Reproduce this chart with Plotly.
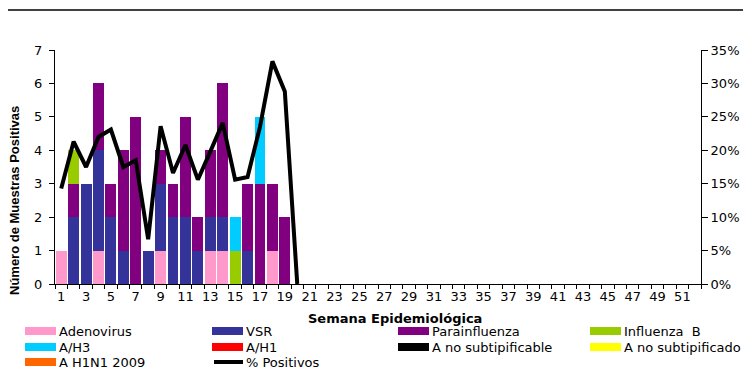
import plotly.graph_objects as go

weeks = list(range(1, 53))
adenovirus = [1,0,0,1,0,0,0,0,1,0,0,0,1,1,0,0,0,1,0] + [0]*33
vsr        = [0,2,3,3,2,1,0,1,2,2,2,1,1,1,0,1,0,0,0] + [0]*33
parainfl   = [0,1,0,2,1,3,5,0,1,1,3,1,2,4,0,2,3,2,2] + [0]*33
influenza_b= [0,1,0,0,0,0,0,0,0,0,0,0,0,0,1,0,0,0,0] + [0]*33
a_h3       = [0,0,0,0,0,0,0,0,0,0,0,0,0,0,1,0,2,0,0] + [0]*33
a_h1       = [0]*52
a_no_subtipificable = [0]*52
a_no_subtipificado  = [0]*52
a_h1n1_2009 = [0]*52
pct_positivos = [14.3,21.3,17.5,22.0,23.1,17.5,18.5,6.7,23.6,16.6,20.8,15.6,19.8,24.1,
                 15.6,16.0,23.5,33.3,28.8,0.0] + [None]*32
tick_labels = [str(w) for w in range(1, 53, 2)]

series_names = ["Adenovirus", "VSR", "Parainfluenza", "Influenza  B", "A/H3", "A/H1",
                "A no subtipificable", "A no subtipificado", "A H1N1 2009"]
series_values = [adenovirus, vsr, parainfl, influenza_b, a_h3, a_h1,
                 a_no_subtipificable, a_no_subtipificado, a_h1n1_2009]
series_colors = ["#FF99CC", "#333399", "#800080", "#99CC00", "#00CCFF", "#FF0000",
                 "#000000", "#FFFF00", "#FF6600"]
line_name = "% Positivos"

FONT = "DejaVu Sans"
OFF = 8  # page body margin
W, H = 751 - OFF, 369 - OFF
ML, MT = 55 - OFF, 50 - OFF
MR = W - (701 - OFF)
MB = H - (284 - OFF)
PW, PH = W - ML - MR, H - MT - MB

def px(x):  # window pixel -> paper x
    return (x - OFF - ML) / PW

def py(y):  # window pixel -> paper y
    return (H - MB - (y - OFF)) / PH

fig = go.Figure()
for name, vals, col in zip(series_names, series_values, series_colors):
    fig.add_trace(go.Bar(x=weeks, y=vals, name=name, marker=dict(color=col, line=dict(width=0)),
                         yaxis="y"))

fig.add_trace(go.Scatter(x=weeks, y=[None if v is None else v/100 for v in pct_positivos],
                         mode="lines", name=line_name, yaxis="y2",
                         line=dict(color="black", width=4)))

# manual legend in the original's 4-column layout
col_x = [25, 212, 398, 590]
row_y = [331, 347, 362]
shapes = [dict(type="line", xref="paper", yref="paper", x0=-0.2, x1=1.2, y0=py(10), y1=py(10),
               line=dict(color="black", width=1.5))]
annotations = []
entries = list(zip(series_names, series_colors)) + [(line_name, None)]
for i, (name, col) in enumerate(entries):
    cx, cy = col_x[i % 4], row_y[i // 4]
    if col is None:
        shapes.append(dict(type="line", xref="paper", yref="paper", x0=px(cx + 2), x1=px(cx + 31),
                           y0=py(cy), y1=py(cy), line=dict(color="black", width=4)))
    else:
        shapes.append(dict(type="rect", xref="paper", yref="paper", x0=px(cx), x1=px(cx + 31),
                           y0=py(cy + 4), y1=py(cy - 4), line=dict(width=0), fillcolor=col))
    annotations.append(dict(text=name, xref="paper", yref="paper", x=px(cx + 32), y=py(cy),
                            xanchor="left", yanchor="middle", showarrow=False,
                            font=dict(family=FONT, size=13)))

annotations += [
    dict(text="<b>Semana Epidemiológica</b>", xref="paper", yref="paper", x=px(395), y=py(318),
         xanchor="center", yanchor="middle", showarrow=False, font=dict(family=FONT, size=13)),
    dict(text="<b>Número de Muestras Positivas</b>", xref="paper", yref="paper", x=px(15), y=py(201),
         xanchor="center", yanchor="middle", textangle=-90, showarrow=False,
         font=dict(family="Liberation Sans", size=13)),
    dict(text="<b>% Positivos</b>", xref="paper", yref="paper", x=px(753), y=py(185),
         xanchor="center", yanchor="middle", textangle=-90, showarrow=False,
         font=dict(family="Liberation Sans", size=13)),
]

fig.update_layout(
    width=W, height=H,
    margin=dict(l=ML, r=MR, t=MT, b=MB, autoexpand=False),
    paper_bgcolor="white", plot_bgcolor="white",
    barmode="stack", bargap=0.12,
    showlegend=False,
    font=dict(family=FONT, size=13, color="black"),
    xaxis=dict(range=[0.5, 52.5], tickmode="array", tickvals=list(range(1, 53, 2)), ticktext=tick_labels,
               showline=True, linecolor="black", linewidth=1, ticks="outside", ticklen=0,
               tickfont=dict(size=13), showgrid=False, zeroline=False,
               minor=dict(ticks="outside", ticklen=4, tickcolor="black", tick0=0.5, dtick=1, showgrid=False)),
    yaxis=dict(range=[0, 7], dtick=1, showline=True, linecolor="black", linewidth=1,
               ticks="outside", ticklen=5, tickcolor="black", showgrid=False, zeroline=False,
               ticklabelstandoff=4),
    yaxis2=dict(range=[0, 0.35], dtick=0.05, tickformat=".0%", overlaying="y", side="right",
                showline=True, linecolor="black", linewidth=1, ticks="outside", ticklen=6,
                tickcolor="black", showgrid=False, zeroline=False),
    shapes=shapes,
    annotations=annotations,
)

fig.write_html("out.html")
